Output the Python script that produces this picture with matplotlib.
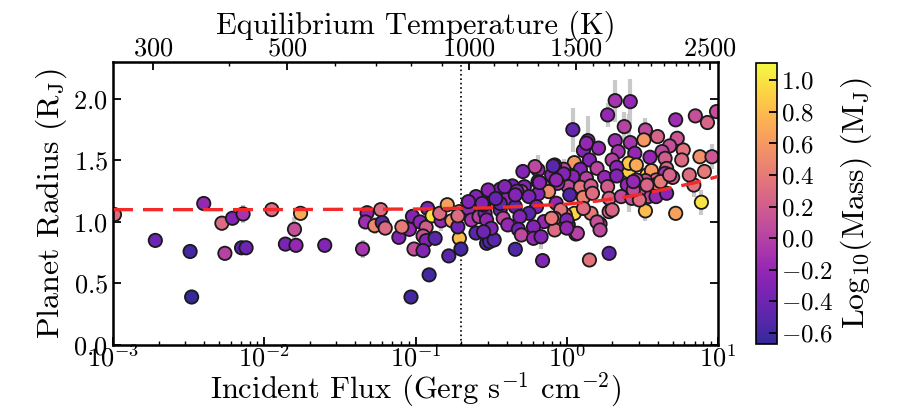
import numpy as np
import matplotlib
matplotlib.use('Agg')
import matplotlib.pyplot as plt
from matplotlib.colors import ListedColormap
from matplotlib.ticker import FixedLocator, NullFormatter, FuncFormatter

plt.rcParams['font.family'] = 'serif'
plt.rcParams['font.serif'] = ['cmr10']
plt.rcParams['mathtext.fontset'] = 'cm'
plt.rcParams['axes.formatter.use_mathtext'] = True

# --- data ---
# log10 of incident flux (Gerg s^-1 cm^-2)
log_flux = [
    -2.99, -2.72, -2.49, -2.48, -2.40, -2.28, -2.26, -2.21, -2.14, -2.15,
    -2.12, -1.95, -1.86, -1.80, -1.79, -1.76, -1.60, -1.35, -1.32, -1.33,
    -1.27, -1.23, -1.22, -1.20, -1.11, -1.03, -1.02, -1.04, -1.09, -1.01,
    -0.97, -0.93, -0.92, -0.89, -0.95, -0.93, -0.87, -0.95, -0.91, -0.83,
    -0.84, -0.79, -0.76, -0.78, -0.71, -0.70, -0.72, -0.71, -0.72, -0.65,
    -0.61, -0.60, -0.63, -0.58, -0.54, -0.52, -0.53, -0.51, -0.48, -0.34,
    -0.16, 0.15, 0.28, 0.04, 0.32, 0.42, 0.27, 0.72, 0.85, 0.93,
    0.99, 0.89, 0.72, 0.52, 0.41, 0.53, 0.05, 0.84, 0.91, 0.88,
    0.96, 0.77, 0.73, 0.52, 0.60, 0.51, 0.68, 0.63, 0.55, 0.65,
    0.76, 0.66, 0.56, 0.65, 0.70, 0.59, 0.52, 0.81, 0.60, 0.54,
    0.38, 0.14, 0.32, 0.42, 0.11, 0.21, 0.34, 0.45, 0.05, 0.15,
    0.30, 0.41, 0.46, -0.02, 0.09, 0.20, 0.33, 0.04, 0.13, 0.25,
    0.33, 0.46, 0.01, 0.09, 0.16, 0.27, 0.40, 0.48, 0.02, 0.11,
    0.17, 0.28, 0.36, 0.43, -0.01, 0.16, 0.28, 0.11, 0.01, 0.22,
    0.06, -0.08, -0.19, -0.10, -0.02, -0.19, -0.28, -0.15, -0.06, -0.44,
    -0.36, -0.30, -0.12, -0.53, -0.49, -0.40, -0.19, -0.25, -0.55, -0.44,
    -0.34, -0.20, -0.25, -0.07, -0.04, -0.53, -0.42, -0.31, -0.15, -0.08,
    0.00, -0.50, -0.39, -0.32, -0.22, -0.08, 0.07, -0.55, -0.30, -0.22,
    -0.17, -0.21, -0.09, 0.13, -0.29, -0.41, -0.52, -0.60, -0.44, -0.33,
    -0.18, -0.07, -0.10, 0.00, 0.20, 0.22, 0.30, 0.48, 0.59, 0.66,
    0.44, 0.53, 0.62, 0.68, 0.44, -0.65, -0.56, -0.47, -0.34,
]
# planet radius (R_J)
radius = [
    1.06, 0.85, 0.76, 0.39, 1.15, 0.99, 0.745, 1.03, 1.065, 0.79,
    0.79, 1.10, 0.82, 0.94, 0.81, 1.07, 0.81, 0.78, 1.075, 1.00,
    0.97, 1.10, 0.995, 0.95, 0.875, 0.39, 1.045, 0.94, 0.96, 0.78,
    1.00, 0.957, 1.11, 1.05, 0.886, 0.848, 0.867, 0.767, 0.57, 1.01,
    1.07, 1.14, 1.01, 0.724, 0.867, 0.78, 0.96, 1.084, 1.05, 1.11,
    1.18, 0.91, 1.016, 1.043, 1.07, 0.935, 0.827, 0.84, 0.854, 0.778,
    0.686, 0.691, 0.745, 1.75, 1.986, 1.978, 1.87, 1.83, 1.862, 1.808,
    1.897, 1.16, 1.07, 1.09, 1.41, 1.382, 1.07, 1.30, 1.41, 1.53,
    1.53, 1.585, 1.68, 1.748, 1.694, 1.667, 1.618, 1.572, 1.526, 1.517,
    1.504, 1.435, 1.417, 1.395, 1.362, 1.341, 1.336, 1.382, 1.309, 1.206,
    1.775, 1.661, 1.661, 1.645, 1.58, 1.60, 1.572, 1.558, 1.482, 1.504,
    1.504, 1.477, 1.463, 1.428, 1.428, 1.436, 1.444, 1.368, 1.355, 1.362,
    1.374, 1.341, 1.287, 1.282, 1.293, 1.287, 1.301, 1.26, 1.22, 1.20,
    1.233, 1.192, 1.206, 1.192, 1.057, 1.07, 1.084, 1.11, 0.976, 0.984,
    0.902, 1.463, 1.423, 1.382, 1.39, 1.328, 1.287, 1.287, 1.314, 1.266,
    1.293, 1.247, 1.247, 1.206, 1.165, 1.184, 1.228, 1.206, 1.138, 1.098,
    1.124, 1.124, 1.07, 1.152, 1.098, 1.016, 1.03, 1.043, 1.003, 1.03,
    1.016, 0.948, 0.976, 0.94, 0.96, 0.935, 0.908, 0.92, 0.894, 0.867,
    0.88, 1.45, 1.455, 1.64, 1.41, 1.287, 1.26, 1.206, 1.15, 1.25,
    1.32, 1.341, 1.03, 0.95, 1.00, 0.935, 1.098, 1.179, 1.206, 1.233,
    1.26, 1.30, 1.328, 1.382, 1.328, 1.165, 1.15, 1.19, 1.22,
]
# log10 planet mass (M_J)
log_mass = [
    0.30, -0.40, -0.60, -0.65, -0.20, 0.30, 0.00, -0.30, -0.10, -0.50,
    -0.40, 0.30, -0.35, 0.10, -0.20, 0.70, -0.30, -0.10, -0.20, -0.15,
    0.50, 0.30, -0.50, 0.30, -0.30, -0.60, -0.30, -0.20, 0.40, 0.10,
    -0.25, 0.20, -0.30, 1.00, 0.10, -0.30, -0.50, -0.30, -0.60, -0.20,
    0.30, 0.65, 0.60, -0.50, 0.80, -0.60, -0.40, 0.40, 0.30, -0.20,
    -0.30, -0.50, -0.10, 0.00, -0.30, -0.20, -0.50, -0.55, -0.50, -0.55,
    -0.30, 0.35, -0.45, -0.45, -0.10, -0.20, -0.20, -0.15, 0.10, 0.25,
    0.10, 1.00, 0.65, 0.80, 0.90, 0.95, 0.95, 0.35, 0.40, 0.55,
    0.15, 0.35, 0.15, 0.05, 0.25, 0.60, 0.10, 0.05, -0.20, 0.20,
    0.30, 0.25, 0.60, -0.10, 0.20, 0.30, 0.10, 0.30, 0.40, 0.05,
    0.00, -0.25, -0.15, -0.10, -0.30, -0.20, -0.10, -0.20, 0.60, -0.30,
    0.00, 0.85, 0.70, 0.05, -0.30, 0.05, -0.25, -0.25, 0.00, -0.20,
    -0.30, 0.10, 0.05, 0.35, 0.20, 0.20, -0.20, 0.10, -0.55, 0.45,
    0.30, 0.25, 0.05, 0.10, 0.40, 0.40, 0.25, 0.30, -0.20, 0.05,
    -0.10, -0.40, -0.15, -0.25, -0.30, -0.20, -0.30, 0.00, -0.10, -0.35,
    -0.40, 0.05, 0.50, -0.30, 0.10, -0.20, -0.30, -0.35, -0.35, -0.40,
    -0.50, -0.30, -0.50, -0.20, 0.35, -0.20, 0.05, -0.30, -0.20, 0.25,
    -0.30, -0.30, -0.20, -0.40, -0.30, 0.30, 0.00, -0.40, 0.05, -0.20,
    -0.30, 0.05, -0.50, -0.20, -0.30, -0.30, -0.25, -0.30, -0.45, -0.30,
    -0.25, -0.20, 0.40, -0.20, 0.10, 0.05, 0.25, 0.30, -0.20, -0.25,
    0.05, 0.25, 0.40, 0.25, -0.20, -0.30, -0.30, -0.45, -0.30,
]
# radius uncertainty (R_J), 0 where the bar hides behind the marker
radius_err = [
    0, 0, 0, 0, 0, 0.06, 0, 0, 0.07, 0,
    0, 0, 0, 0.10, 0, 0, 0, 0.07, 0, 0,
    0.07, 0, 0, 0, 0, 0, 0, 0, 0.05, 0.05,
    0, 0, 0, 0, 0.05, 0, 0, 0, 0, 0.08,
    0, 0, 0, 0, 0, 0, 0, 0.05, 0, 0,
    0.06, 0, 0, 0, 0, 0, 0.06, 0, 0, 0.05,
    0, 0, 0, 0.18, 0.17, 0.18, 0.10, 0, 0, 0.06,
    0, 0.10, 0, 0.08, 0, 0, 0, 0.10, 0, 0,
    0.10, 0.12, 0, 0.10, 0, 0, 0, 0, 0, 0,
    0, 0, 0, 0, 0, 0, 0, 0, 0, 0,
    0.12, 0.20, 0, 0, 0, 0, 0, 0, 0, 0,
    0, 0.40, 0, 0.07, 0, 0, 0, 0, 0, 0,
    0, 0, 0, 0, 0, 0, 0, 0, 0, 0,
    0, 0, 0, 0, 0, 0, 0, 0, 0, 0.08,
    0, 0, 0.12, 0, 0.12, 0, 0, 0, 0, 0.06,
    0, 0, 0, 0, 0, 0, 0, 0, 0, 0,
    0, 0, 0, 0, 0, 0, 0, 0, 0, 0,
    0, 0, 0, 0, 0, 0.06, 0, 0, 0.06, 0,
    0.10, 0, 0, 0, 0, 0, 0, 0, 0, 0,
    0, 0, 0, 0, 0, 0, 0, 0, 0, 0,
    0, 0, 0, 0, 0, 0, 0, 0, 0,
]

# dashed model curve
model_log_flux = [-3.0, -2.0, -1.0, -0.5, 0.0, 0.2, 0.4, 0.55, 0.7, 0.85, 1.0]
model_radius = [1.10, 1.10, 1.105, 1.115, 1.145, 1.17, 1.205, 1.24, 1.28, 1.32, 1.37]

flux_cut = 0.2
teq_major = [300, 500, 1000, 1500, 2500]
teq_minor = [200, 400, 600, 700, 800, 900, 1100, 1200, 1300, 1400, 1600,
             1700, 1800, 1900, 2000, 2100, 2200, 2300, 2400]
mass_ticks = [-0.6, -0.4, -0.2, 0.0, 0.2, 0.4, 0.6, 0.8, 1.0]


def teq_to_flux(t):
    # F = 4 sigma Teq^4, in Gerg s^-1 cm^-2
    return 4 * 5.6704e-5 * np.asarray(t, dtype=float) ** 4 / 1e9


flux = 10 ** np.array(log_flux)
radius = np.array(radius)
log_mass = np.array(log_mass)
radius_err = np.array(radius_err)

# slightly washed-out plasma, like the original render
base = plt.get_cmap('plasma')(np.linspace(0, 1, 256))
base[:, :3] = base[:, :3] * 0.86 + 0.14
cmap = ListedColormap(base)

fig = plt.figure(figsize=(8.98, 4.09), dpi=100)
ax = fig.add_axes([0.1258, 0.1565, 0.6738, 0.6919])
cax = fig.add_axes([0.842, 0.1590, 0.0234, 0.6870])

has_err = radius_err > 0
ax.errorbar(flux[has_err], radius[has_err], yerr=radius_err[has_err], fmt='none',
            ecolor='#c9c9c9', elinewidth=3, capsize=0, zorder=1)
sc = ax.scatter(flux, radius, c=log_mass, cmap=cmap, vmin=-0.67, vmax=1.11,
                s=92, edgecolors='#1a1a1a', linewidths=1.3, zorder=2)

ax.plot(10 ** np.array(model_log_flux), model_radius, color='#f22a2a',
        lw=2.4, ls=(0, (6, 3)), zorder=3)
ax.axvline(flux_cut, color='black', lw=1.2, ls=':', zorder=0)

ax.set_xscale('log')
ax.set_xlim(1e-3, 10)
ax.set_ylim(0, 2.3)
ax.set_xticks([1e-3, 1e-2, 1e-1, 1, 10])
ax.set_xticklabels([r'$10^{-3}$', r'$10^{-2}$', r'$10^{-1}$', r'$10^{0}$', r'$10^{1}$'])
ax.set_yticks([0, 0.5, 1.0, 1.5, 2.0])
ax.yaxis.set_major_formatter(FuncFormatter(lambda v, p: r'$%.1f$' % v))
ax.tick_params(which='both', direction='in', top=False, right=True, labelsize=19)
ax.tick_params(axis='x', pad=0)
ax.tick_params(which='major', length=6, width=1.3)
ax.tick_params(which='minor', length=3, width=1.0)
for s in ax.spines.values():
    s.set_linewidth(1.8)

ax.set_xlabel(r'Incident Flux (Gerg s$^{-1}$ cm$^{-2}$)', fontsize=22, labelpad=-1)
ax.set_ylabel(r'Planet Radius (R$_\mathrm{J}$)', fontsize=23, labelpad=3)

# top axis: equilibrium temperature
ax_top = ax.twiny()
ax_top.set_xscale('log')
ax_top.set_xlim(ax.get_xlim())
ax_top.xaxis.set_major_locator(FixedLocator(teq_to_flux(teq_major)))
ax_top.xaxis.set_minor_locator(FixedLocator(teq_to_flux(teq_minor)))
ax_top.xaxis.set_minor_formatter(NullFormatter())
ax_top.set_xticklabels([r'$%d$' % t for t in teq_major])
ax_top.tick_params(which='both', direction='in', labelsize=19, pad=1)
ax_top.tick_params(which='major', length=6, width=1.3)
ax_top.tick_params(which='minor', length=3, width=1.0)
ax_top.set_xlabel('Equilibrium Temperature (K)', fontsize=22, labelpad=2)

cb = fig.colorbar(sc, cax=cax)
cb.set_ticks(mass_ticks)
cb.ax.yaxis.set_major_formatter(FuncFormatter(lambda v, p: r'$%.1f$' % v))
cb.ax.tick_params(direction='in', length=6, width=1.3, labelsize=18, pad=3)
cb.outline.set_linewidth(1.2)
cb.set_label(r'Log$_{10}$(Mass) (M$_\mathrm{J}$)', fontsize=23, labelpad=3)

fig.savefig('out.png', dpi=100)
